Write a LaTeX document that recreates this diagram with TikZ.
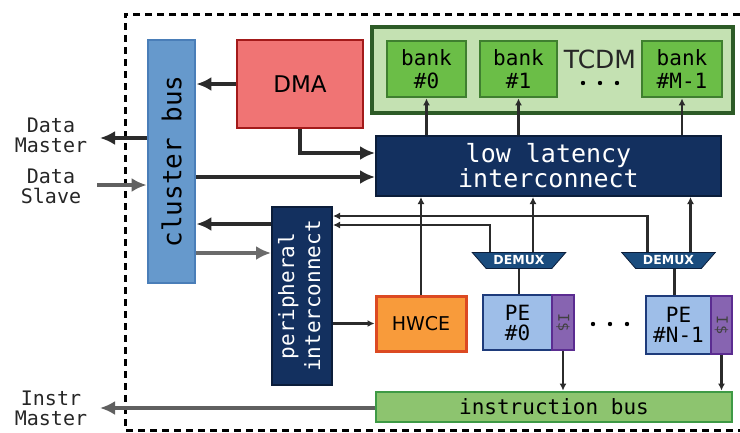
\documentclass[tikz,border=0pt]{standalone}
\usepackage{fontspec}
\setmainfont{DejaVu Sans}
\setmonofont{DejaVu Sans Mono}
\usepackage{graphicx}
\usepackage{tikz}
\usetikzlibrary{positioning,arrows.meta,shapes.geometric}

\definecolor{busblue}{HTML}{6699CC}
\definecolor{busline}{HTML}{4A7EB8}
\definecolor{dmared}{HTML}{F07474}
\definecolor{dmaline}{HTML}{A31A1A}
\definecolor{tcdmfill}{HTML}{C4E1B2}
\definecolor{tcdmline}{HTML}{2D5B27}
\definecolor{bankfill}{HTML}{6BBE47}
\definecolor{bankline}{HTML}{3F7F2F}
\definecolor{navy}{HTML}{13305F}
\definecolor{navyline}{HTML}{0B1D3A}
\definecolor{hwcefill}{HTML}{F89B3B}
\definecolor{hwceline}{HTML}{DC4A22}
\definecolor{pefill}{HTML}{9EBEE8}
\definecolor{peline}{HTML}{1E3B7B}
\definecolor{icfill}{HTML}{8764B1}
\definecolor{icline}{HTML}{5B2C91}
\definecolor{ibusfill}{HTML}{8DC46F}
\definecolor{ibusline}{HTML}{3E9A45}
\definecolor{demuxfill}{HTML}{1A4C7E}
\definecolor{wire}{HTML}{2B2B2B}

\newcommand{\fsbig}{\fontsize{25}{23}\selectfont}
\newcommand{\fsmid}{\fontsize{21}{20}\selectfont}
\newcommand{\fslbl}{\fontsize{20}{20}\selectfont}

\begin{document}
\begin{tikzpicture}[x=1pt,y=-1pt,
    box/.style={draw,line width=2.8pt,inner sep=0pt,align=center},
    bigarr/.style={draw=wire,line width=3.5pt,-{Latex[length=15pt,width=14pt]}},
    smallarr/.style={draw=wire,line width=2.3pt,-{Latex[length=7pt,width=7pt]}},
    plainwire/.style={draw=wire,line width=2.3pt},
    demux/.style={trapezium,shape border rotate=180,trapezium stretches=true,
      trapezium angle=43,minimum width=94pt,minimum height=16pt,inner sep=0.5pt,
      fill=demuxfill,draw=navyline,line width=0.8pt,text=white,
      font=\fontsize{12.5}{12.5}\selectfont\bfseries},
    lbl/.style={align=center,font=\fslbl\ttfamily,text=black!85}]
  \useasboundingbox (0,0) rectangle (740,432);

  % dashed cluster frame
  \draw[line width=3pt,dash pattern=on 7pt off 5pt] (740,14) -- (125,14) -- (125,430) -- (740,430);

  % blocks
  \node[box,fill=busblue,draw=busline,minimum width=47pt,minimum height=243pt,font=\fontsize{26}{26}\selectfont\ttfamily]
    (cbus) at (171.5,161.5) {\rotatebox{90}{cluster bus}};
  \node[box,fill=dmared,draw=dmaline,minimum width=126pt,minimum height=88pt,font=\fontsize{23}{23}\selectfont]
    (dma) at (300,84) {DMA};
  \node[box,fill=tcdmfill,draw=tcdmline,line width=3.2pt,minimum width=361pt,minimum height=86pt] (tcdm) at (552.5,70) {};
  \node[box,fill=bankfill,draw=bankline,minimum width=79pt,minimum height=56pt,font=\fontsize{21}{23}\selectfont\ttfamily]
    (bank0) at (426.5,69) {bank\\\#0};
  \node[box,fill=bankfill,draw=bankline,minimum width=77pt,minimum height=56pt,font=\fontsize{21}{23}\selectfont\ttfamily]
    (bank1) at (518.5,69) {bank\\\#1};
  \node[box,fill=bankfill,draw=bankline,minimum width=80pt,minimum height=56pt,font=\fontsize{21}{23}\selectfont\ttfamily]
    (bankM) at (682,69) {bank\\\#M-1};
  \node[font=\fontsize{25}{25}\selectfont,text=black!85,inner sep=1pt] (tcdmlbl) at (600,59) {TCDM};
  \foreach \x in {583,600,617} \fill[black] (\x,83) circle (2.2pt);

  \node[box,fill=navy,draw=navyline,line width=2pt,minimum width=345pt,minimum height=60pt,text=white,font=\fsbig\ttfamily]
    (lli) at (548.5,166) {low latency\\interconnect};
  \node[box,fill=navy,draw=navyline,line width=2pt,minimum width=60pt,minimum height=178pt,text=white,font=\fontsize{21}{26}\selectfont\ttfamily]
    (periph) at (302,296) {\rotatebox{90}{\begin{tabular}{@{}c@{}}peripheral\\interconnect\end{tabular}}};
  \node[box,fill=hwcefill,draw=hwceline,line width=3pt,minimum width=90pt,minimum height=55pt,font=\fontsize{19}{19}\selectfont]
    (hwce) at (421,323.5) {HWCE};

  \node[box,fill=pefill,draw=peline,minimum width=69pt,minimum height=55pt,font=\fsmid\ttfamily]
    (pe0) at (517.5,322.5) {PE\\\#0};
  \node[box,fill=icfill,draw=icline,minimum width=22pt,minimum height=55pt,text=black!75,font=\fontsize{15}{15}\selectfont\ttfamily]
    (ic0) at (563,322.5) {\rotatebox{-90}{I\$}};
  \node[box,fill=pefill,draw=peline,minimum width=65pt,minimum height=58pt,font=\fsmid\ttfamily]
    (peN) at (678.5,325) {PE\\\#N-1};
  \node[box,fill=icfill,draw=icline,minimum width=21pt,minimum height=58pt,text=black!75,font=\fontsize{15}{15}\selectfont\ttfamily]
    (icN) at (721.5,325) {\rotatebox{-90}{I\$}};
  \foreach \x in {593,610,627} \fill[black] (\x,324) circle (2.2pt);

  \node[demux] (dmx0) at (519,260.5) {DEMUX};
  \node[demux] (dmxN) at (668.5,260.5) {DEMUX};

  \node[box,fill=ibusfill,draw=ibusline,minimum width=356pt,minimum height=30pt,font=\fontsize{21}{21}\selectfont\ttfamily]
    (ibus) at (554,407) {instruction bus};

  % outside ports
  \node[lbl] (lblDM) at (51,135) {Data\\Master};
  \node[lbl] (lblDS) at (51,186) {Data\\Slave};
  \node[lbl] (lblIM) at (51,408) {Instr\\Master};
  \coordinate (dmst) at (100,138);
  \coordinate (dslv) at (97,185);
  \coordinate (imst) at (100,408);

  % helper points on the block sides
  \coordinate (dmaIn) at ([yshift=13pt]lli.west);
  \coordinate (cbIn) at ([yshift=-11pt]lli.west);
  \coordinate (pcOut) at ([yshift=72pt]periph.west);
  \coordinate (pcIn) at ([yshift=43pt]periph.west);
  \coordinate (pcA) at ([yshift=80pt]periph.east);
  \coordinate (pcB) at ([yshift=71pt]periph.east);

  % data connections
  \draw[bigarr] (dma.west) -- (dma.west -| cbus.east);
  \draw[bigarr] (dma.south) |- (dmaIn);
  \draw[bigarr] (cbIn -| cbus.east) -- (cbIn);
  \draw[bigarr] (dmst -| cbus.west) -- (dmst);
  \draw[bigarr,draw=wire!75] (dslv) -- (dslv -| cbus.west);
  \draw[bigarr] (pcOut) -- (pcOut -| cbus.east);
  \draw[bigarr,draw=wire!70] (pcIn -| cbus.east) -- (pcIn);
  \draw[bigarr,draw=wire!75] (ibus.west |- imst) -- (imst);

  \foreach \b in {bank0,bank1,bankM}
    \draw[smallarr] (\b.south |- lli.north) -- (\b.south);
  \draw[smallarr] (hwce.north) -- (hwce.north |- lli.south);
  \draw[smallarr] ([xshift=14pt]dmx0.north) -- ([xshift=14pt]dmx0.north |- lli.south);
  \draw[smallarr] ([xshift=22pt]dmxN.north) -- ([xshift=22pt]dmxN.north |- lli.south);
  \draw[smallarr] ([xshift=-29pt]dmx0.north) |- (pcB);
  \draw[smallarr] ([xshift=-21pt]dmxN.north) |- (pcA);
  \draw[smallarr] (hwce.west -| periph.east) -- (hwce.west);

  \draw[plainwire] (dmx0.south) -- (dmx0.south |- pe0.north);
  \draw[plainwire] ([xshift=6pt]dmxN.south) -- ([xshift=6pt]dmxN.south |- peN.north);
  \draw[smallarr] (ic0.south) -- (ic0.south |- ibus.north);
  \draw[smallarr] (icN.south) -- (icN.south |- ibus.north);
\end{tikzpicture}
\end{document}
